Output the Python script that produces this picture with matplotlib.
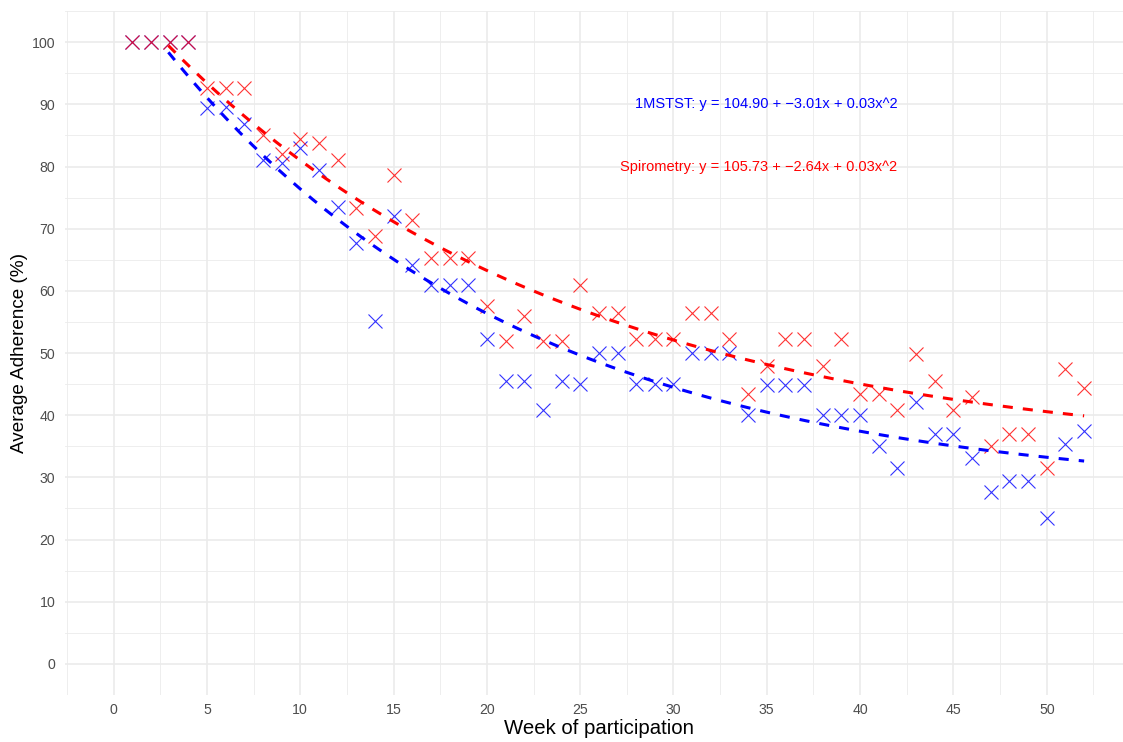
import matplotlib
matplotlib.use("Agg")
import matplotlib.pyplot as plt
import numpy as np

# weekly average adherence (%)
weeks = np.arange(1, 53)
mststst = [100, 100, 100, 100, 89.4, 89.6, 86.9, 81.0, 80.5, 82.9,
           79.4, 73.5, 67.7, 55.1, 72.0, 64.1, 60.9, 60.9, 60.9, 52.2,
           45.5, 45.5, 40.9, 45.5, 45.1, 50.0, 50.0, 45.1, 45.1, 45.1,
           50.0, 50.0, 50.0, 40.0, 44.9, 44.9, 44.9, 40.0, 40.0, 40.0,
           35.0, 31.5, 42.1, 36.9, 36.9, 33.2, 27.7, 29.4, 29.4, 23.4,
           35.3, 37.5]
spiro = [100, 100, 100, 100, 92.7, 92.7, 92.7, 85.0, 82.0, 84.4,
         83.7, 81.0, 73.4, 68.8, 78.7, 71.4, 65.3, 65.3, 65.3, 57.6,
         51.9, 56.0, 51.9, 51.9, 60.9, 56.5, 56.5, 52.2, 52.2, 52.2,
         56.5, 56.5, 52.2, 43.4, 47.9, 52.2, 52.2, 47.9, 52.2, 43.4,
         43.4, 40.9, 49.9, 45.5, 40.9, 42.9, 35.0, 36.9, 36.9, 31.5,
         47.4, 44.4]
label_mststst = "1MSTST: y = 104.90 + \u22123.01x + 0.03x^2"
label_spiro = "Spirometry: y = 105.73 + \u22122.64x + 0.03x^2"


def decay_fit(x, y):
    # least squares fit of y = c + A*exp(-k*x), k by grid search
    x = np.asarray(x, float)
    y = np.asarray(y, float)
    best = None
    for k in np.linspace(0.005, 0.3, 2951):
        A = np.vstack([np.ones_like(x), np.exp(-k * x)]).T
        coef, res, *_ = np.linalg.lstsq(A, y, rcond=None)
        sse = np.sum((A @ coef - y) ** 2)
        if best is None or sse < best[0]:
            best = (sse, k, coef)
    _, k, (c, a) = best
    return lambda t: c + a * np.exp(-k * t)


plt.rcParams['font.family'] = ['Liberation Sans', 'DejaVu Sans']

fig = plt.figure(figsize=(11.23, 7.42), dpi=100)
ax = fig.add_axes([0.0579, 0.0633, 0.9507, 0.9218])

blue = "#0000FF"
red = "#FF0000"

ax.plot(weeks, mststst, 'x', color=blue, alpha=0.8, ms=9.5, mew=0.8, zorder=3)
ax.plot(weeks, spiro, 'x', color=red, alpha=0.8, ms=9.5, mew=0.8, zorder=3)

# fitted trend, values above the 100 % limit dropped
xs = np.linspace(1, 52, 80)
for y, c in [(mststst, blue), (spiro, red)]:
    ys = decay_fit(weeks, y)(xs)
    ys[ys > 100] = np.nan
    ax.plot(xs, ys, color=c, lw=2.2, dashes=(3.3, 3.3), zorder=4)

ax.text(42, 90, label_mststst, color=blue, fontsize=10.5, ha='right', va='center')
ax.text(42, 80, label_spiro, color=red, fontsize=10.5, ha='right', va='center')

ax.set_xlim(-2.6, 54.6)
ax.set_ylim(-5, 105)
ax.set_xticks(np.arange(0, 55, 5))
ax.set_xticks(np.arange(-2.5, 55, 5), minor=True)
ax.set_yticks(np.arange(0, 101, 10))
ax.set_yticks(np.arange(-5, 106, 10), minor=True)
ax.grid(which='major', color='#EBEBEB', lw=1.2)
ax.grid(which='minor', color='#EBEBEB', lw=0.6)
ax.set_axisbelow(True)
for s in ax.spines.values():
    s.set_visible(False)
ax.tick_params(which='both', length=0, labelsize=10.2, labelcolor='#4D4D4D')
ax.tick_params(axis='x', pad=6)
ax.tick_params(axis='y', pad=7)

ax.set_xlabel("Week of participation", fontsize=14.7, labelpad=1)
ax.set_ylabel("Average Adherence (%)", fontsize=13.6, labelpad=3)

fig.savefig("out.png", dpi=100)
